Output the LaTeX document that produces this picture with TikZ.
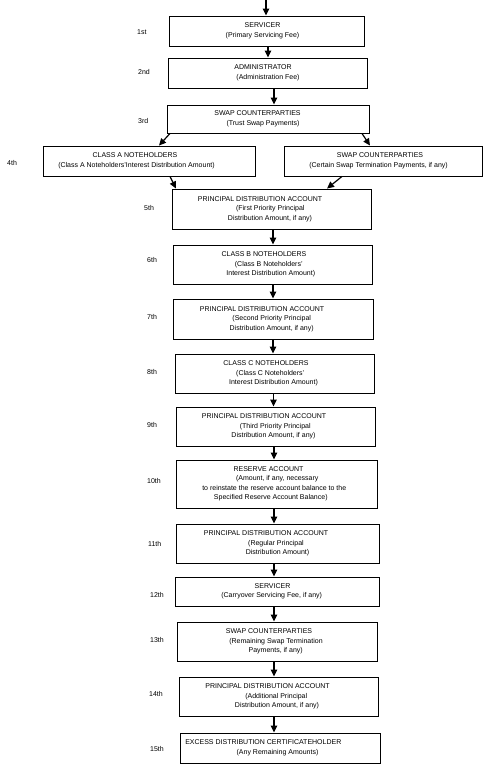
\documentclass[tikz,border=0pt]{standalone}
\usepackage{fontspec}
\setmainfont{Liberation Sans}
\usetikzlibrary{arrows.meta}
\newcommand\shf[2]{\hspace*{#1pt}#2\hspace*{-#1pt}}
\begin{document}
\begin{tikzpicture}[x=1pt,y=-1pt,
  box/.style={draw, line width=0.9pt, inner sep=0pt, align=center,
    font=\fontsize{7}{9.5}\selectfont},
  ord/.style={anchor=west, inner sep=0pt, font=\fontsize{7}{9.5}\selectfont},
  arr/.style={line width=1.2pt, -{Triangle[length=7pt,width=6.5pt]}}]
\useasboundingbox (0,0) rectangle (484,764);
\coordinate (top) at (266,0);
\node[box, minimum width=195pt, minimum height=30pt] (b1) at (266.5,31)
  {\shf{-4}{SERVICER}\\\shf{-4}{(Primary Servicing Fee)}};
\node[box, minimum width=199pt, minimum height=30pt] (b2) at (267.5,73)
  {\shf{-4.5}{ADMINISTRATOR}\\\shf{0.5}{(Administration Fee)}};
\node[box, minimum width=202pt, minimum height=28pt] (b3) at (268,119)
  {\shf{-10.5}{SWAP COUNTERPARTIES}\\\shf{-5}{(Trust Swap Payments)}};
\node[box, minimum width=212pt, minimum height=30pt] (b4a) at (149,161)
  {\shf{-14}{CLASS A NOTEHOLDERS}\\\shf{-12.5}{(Class A Noteholders'Interest Distribution Amount)}};
\node[box, minimum width=198pt, minimum height=30pt] (b4b) at (383,161)
  {\shf{-3}{SWAP COUNTERPARTIES}\\\shf{-4.5}{(Certain Swap Termination Payments, if any)}};
\node[box, minimum width=199pt, minimum height=40pt] (b5) at (271.5,209)
  {\shf{-11.5}{PRINCIPAL DISTRIBUTION ACCOUNT}\\\shf{-2.5}{(First Priority Principal}\\\shf{-1.5}{Distribution Amount, if any)}};
\node[box, minimum width=199pt, minimum height=39pt] (b6) at (272.5,264.5)
  {\shf{-8.5}{CLASS B NOTEHOLDERS}\\\shf{-7.5}{(Class B Noteholders'}\\\shf{-1.7}{Interest Distribution Amount)}};
\node[box, minimum width=200pt, minimum height=40pt] (b7) at (273,319)
  {\shf{-11}{PRINCIPAL DISTRIBUTION ACCOUNT}\\\shf{-2.5}{(Second Priority Principal}\\\shf{-1.3}{Distribution Amount, if any)}};
\node[box, minimum width=199pt, minimum height=39pt] (b8) at (274.5,373.5)
  {\shf{-8.5}{CLASS C NOTEHOLDERS}\\\shf{-8.5}{(Class C Noteholders'}\\\shf{-1}{Interest Distribution Amount)}};
\node[box, minimum width=199pt, minimum height=39pt] (b9) at (275.5,426.5)
  {\shf{-11.5}{PRINCIPAL DISTRIBUTION ACCOUNT}\\\shf{-0.5}{(Third Priority Principal}\\\shf{-2}{Distribution Amount, if any)}};
\node[box, minimum width=201pt, minimum height=48pt] (b10) at (276.5,484)
  {\shf{-8}{RESERVE ACCOUNT}\\\shf{1.5}{(Amount, if any, necessary}\\\shf{-4.5}{to reinstate the reserve account balance to the}\\\shf{-5.7}{Specified Reserve Account Balance)}};
\node[box, minimum width=203pt, minimum height=39pt] (b11) at (277.5,543.5)
  {\shf{-11.5}{PRINCIPAL DISTRIBUTION ACCOUNT}\\\shf{-3}{(Regular Principal}\\\shf{0}{Distribution Amount)}};
\node[box, minimum width=204pt, minimum height=29pt] (b12) at (277,591.5)
  {\shf{-4.5}{SERVICER}\\\shf{-5.3}{(Carryover Servicing Fee, if any)}};
\node[box, minimum width=200pt, minimum height=39pt] (b13) at (277,641.5)
  {\shf{-8}{SWAP COUNTERPARTIES}\\\shf{-2}{(Remaining Swap Termination}\\\shf{-1.3}{Payments, if any)}};
\node[box, minimum width=199pt, minimum height=39pt] (b14) at (278.5,696.5)
  {\shf{-11}{PRINCIPAL DISTRIBUTION ACCOUNT}\\\shf{-4.5}{(Additional Principal}\\\shf{-1.5}{Distribution Amount, if any)}};
\node[box, minimum width=200pt, minimum height=30pt] (b15) at (280,748)
  {\shf{-16.7}{EXCESS DISTRIBUTION CERTIFICATEHOLDER}\\\shf{-2.5}{(Any Remaining Amounts)}};
% ordinal labels
\node[ord] (o1) at (137,32) {1st};
\node[ord] (o2) at (138,72) {2nd};
\node[ord] (o3) at (138,121) {3rd};
\node[ord] (o4) at (7,163) {4th};
\node[ord] (o5) at (144,208) {5th};
\node[ord] (o6) at (147,260) {6th};
\node[ord] (o7) at (147,317) {7th};
\node[ord] (o8) at (147,372) {8th};
\node[ord] (o9) at (147,425) {9th};
\node[ord] (o10) at (147,481) {10th};
\node[ord] (o11) at (148,544) {11th};
\node[ord] (o12) at (150,595) {12th};
\node[ord] (o13) at (150,640) {13th};
\node[ord] (o14) at (149,694) {14th};
\node[ord] (o15) at (150,749) {15th};
% arrows
\draw[arr] (top) -- ([xshift=-0.5pt]b1.north);
\draw[arr] ([xshift=1.5pt]b1.south) -- ([xshift=0.5pt]b2.north);
\draw[arr] ([xshift=6.5pt]b2.south) -- ([xshift=6pt]b3.north);
\draw[arr] ([xshift=-98pt]b3.south) -- ([xshift=10pt]b4a.north);
\draw[arr] ([xshift=94pt]b3.south) -- ([xshift=-13pt]b4b.north);
\draw[arr] ([xshift=21pt]b4a.south) -- ([xshift=-95.5pt]b5.north);
\draw[arr] ([xshift=-41pt]b4b.south) -- ([xshift=55.5pt]b5.north);
\draw[arr] ([xshift=1.5pt]b5.south) -- ([xshift=0.5pt]b6.north);
\draw[arr] ([xshift=0.5pt]b6.south) -- (b7.north);
\draw[arr] (b7.south) -- ([xshift=-1.5pt]b8.north);
\draw[arr] ([xshift=-1pt]b8.south) -- ([xshift=-2pt]b9.north);
\draw[arr] ([xshift=-1.5pt]b9.south) -- ([xshift=-2.5pt]b10.north);
\draw[arr] ([xshift=-2.5pt]b10.south) -- ([xshift=-3.5pt]b11.north);
\draw[arr] ([xshift=-3.5pt]b11.south) -- ([xshift=-3pt]b12.north);
\draw[arr] ([xshift=-3pt]b12.south) -- ([xshift=-3pt]b13.north);
\draw[arr] ([xshift=-3pt]b13.south) -- ([xshift=-4.5pt]b14.north);
\draw[arr] ([xshift=-4.5pt]b14.south) -- ([xshift=-6pt]b15.north);
\end{tikzpicture}
\end{document}
